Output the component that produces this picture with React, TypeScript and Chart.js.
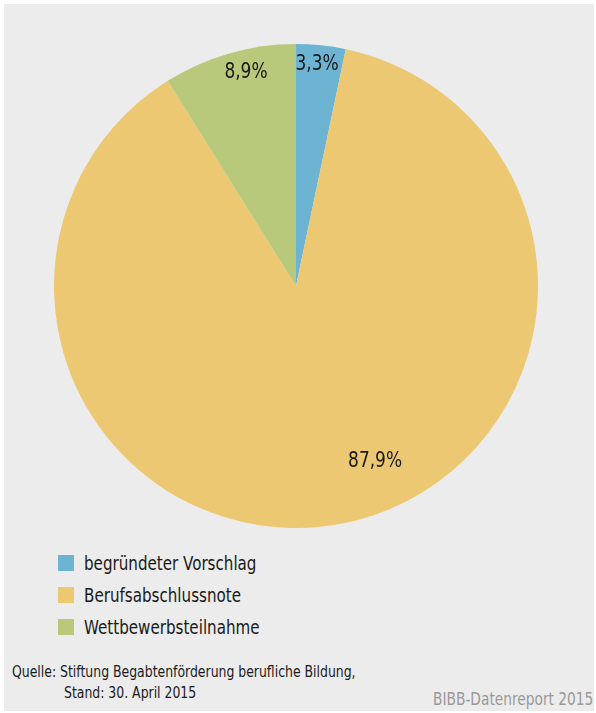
import React, { useEffect, useRef } from "react";
import { Chart, registerables } from "chart.js";

Chart.register(...registerables);

const categories = ["begründeter Vorschlag", "Berufsabschlussnote", "Wettbewerbsteilnahme"];
const values = [3.3, 87.9, 8.9];
const valueLabels = ["3,3%", "87,9%", "8,9%"];
const colors = ["#6db4d3", "#edc872", "#b9c97b"];
const sourceLines = ["Quelle: Stiftung Begabtenförderung berufliche Bildung,", "Stand: 30. April 2015"];
const brand = "BIBB-Datenreport 2015";

const FONT = "'DejaVu Sans Condensed', 'Noto Sans', sans-serif";

// label placement: [radius fraction, angle shift in degrees]
const labelPlacement = [
  [0.92, -0.5],
  [0.795, -14.2],
  [0.905, 2.8],
];

const labelPlugin = {
  id: "sliceLabels",
  afterDatasetsDraw(chart: any) {
    const ctx = chart.ctx;
    const meta = chart.getDatasetMeta(0);
    meta.data.forEach((arc: any, i: number) => {
      const p = arc.getProps(["x", "y", "startAngle", "endAngle", "outerRadius"], true);
      const [f, shift] = labelPlacement[i];
      const a = (p.startAngle + p.endAngle) / 2 + (shift * Math.PI) / 180;
      const r = p.outerRadius * f;
      ctx.save();
      ctx.translate(p.x + Math.cos(a) * r, p.y + Math.sin(a) * r);
      ctx.scale(0.9, 1);
      ctx.font = `21px ${FONT}`;
      ctx.fillStyle = "#1a1a1a";
      ctx.textAlign = "center";
      ctx.textBaseline = "middle";
      ctx.fillText(valueLabels[i], 0, 0);
      ctx.restore();
    });
  },
};

const squeeze = (s: number): React.CSSProperties => ({ transform: `scaleX(${s})`, transformOrigin: "left center" });

export default function App() {
  const ref = useRef<HTMLCanvasElement>(null);
  useEffect(() => {
    if (!ref.current) return;
    const chart = new Chart(ref.current, {
      type: "pie",
      data: {
        labels: categories,
        datasets: [{ data: values, backgroundColor: colors, borderWidth: 0 }],
      },
      options: {
        animation: false,
        responsive: false,
        maintainAspectRatio: false,
        layout: { padding: 0 },
        plugins: { legend: { display: false }, tooltip: { enabled: false } },
      },
      plugins: [labelPlugin],
    });
    return () => chart.destroy();
  }, []);

  return (
    <div style={{ position: "fixed", left: 0, top: 0, width: 596, height: 713, background: "#ffffff", fontFamily: FONT }}>
      <div style={{ position: "absolute", left: 4, top: 4, width: 590, height: 707, background: "#ececec" }} />
      <canvas ref={ref} width={484} height={484} style={{ position: "absolute", left: 54, top: 44, width: 484, height: 484 }} />
      {categories.map((c, i) => (
        <div key={c} style={{ position: "absolute", left: 58, top: 555 + i * 32, height: 16, display: "flex", alignItems: "center" }}>
          <div style={{ width: 16, height: 16, background: colors[i] }} />
          <div style={{ marginLeft: 10, fontSize: 19, color: "#1a1a1a", whiteSpace: "nowrap", lineHeight: "16px", ...squeeze(0.885) }}>{c}</div>
        </div>
      ))}
      <div style={{ position: "absolute", left: 12, top: 661, fontSize: 16, color: "#1a1a1a", whiteSpace: "nowrap", lineHeight: "21px", ...squeeze(0.865) }}>{sourceLines[0]}</div>
      <div style={{ position: "absolute", left: 64, top: 682, fontSize: 16, color: "#1a1a1a", whiteSpace: "nowrap", lineHeight: "21px", ...squeeze(0.865) }}>{sourceLines[1]}</div>
      <div style={{ position: "absolute", left: 433, top: 689, fontSize: 17, color: "#999999", whiteSpace: "nowrap", lineHeight: "21px", ...squeeze(0.9) }}>{brand}</div>
    </div>
  );
}
